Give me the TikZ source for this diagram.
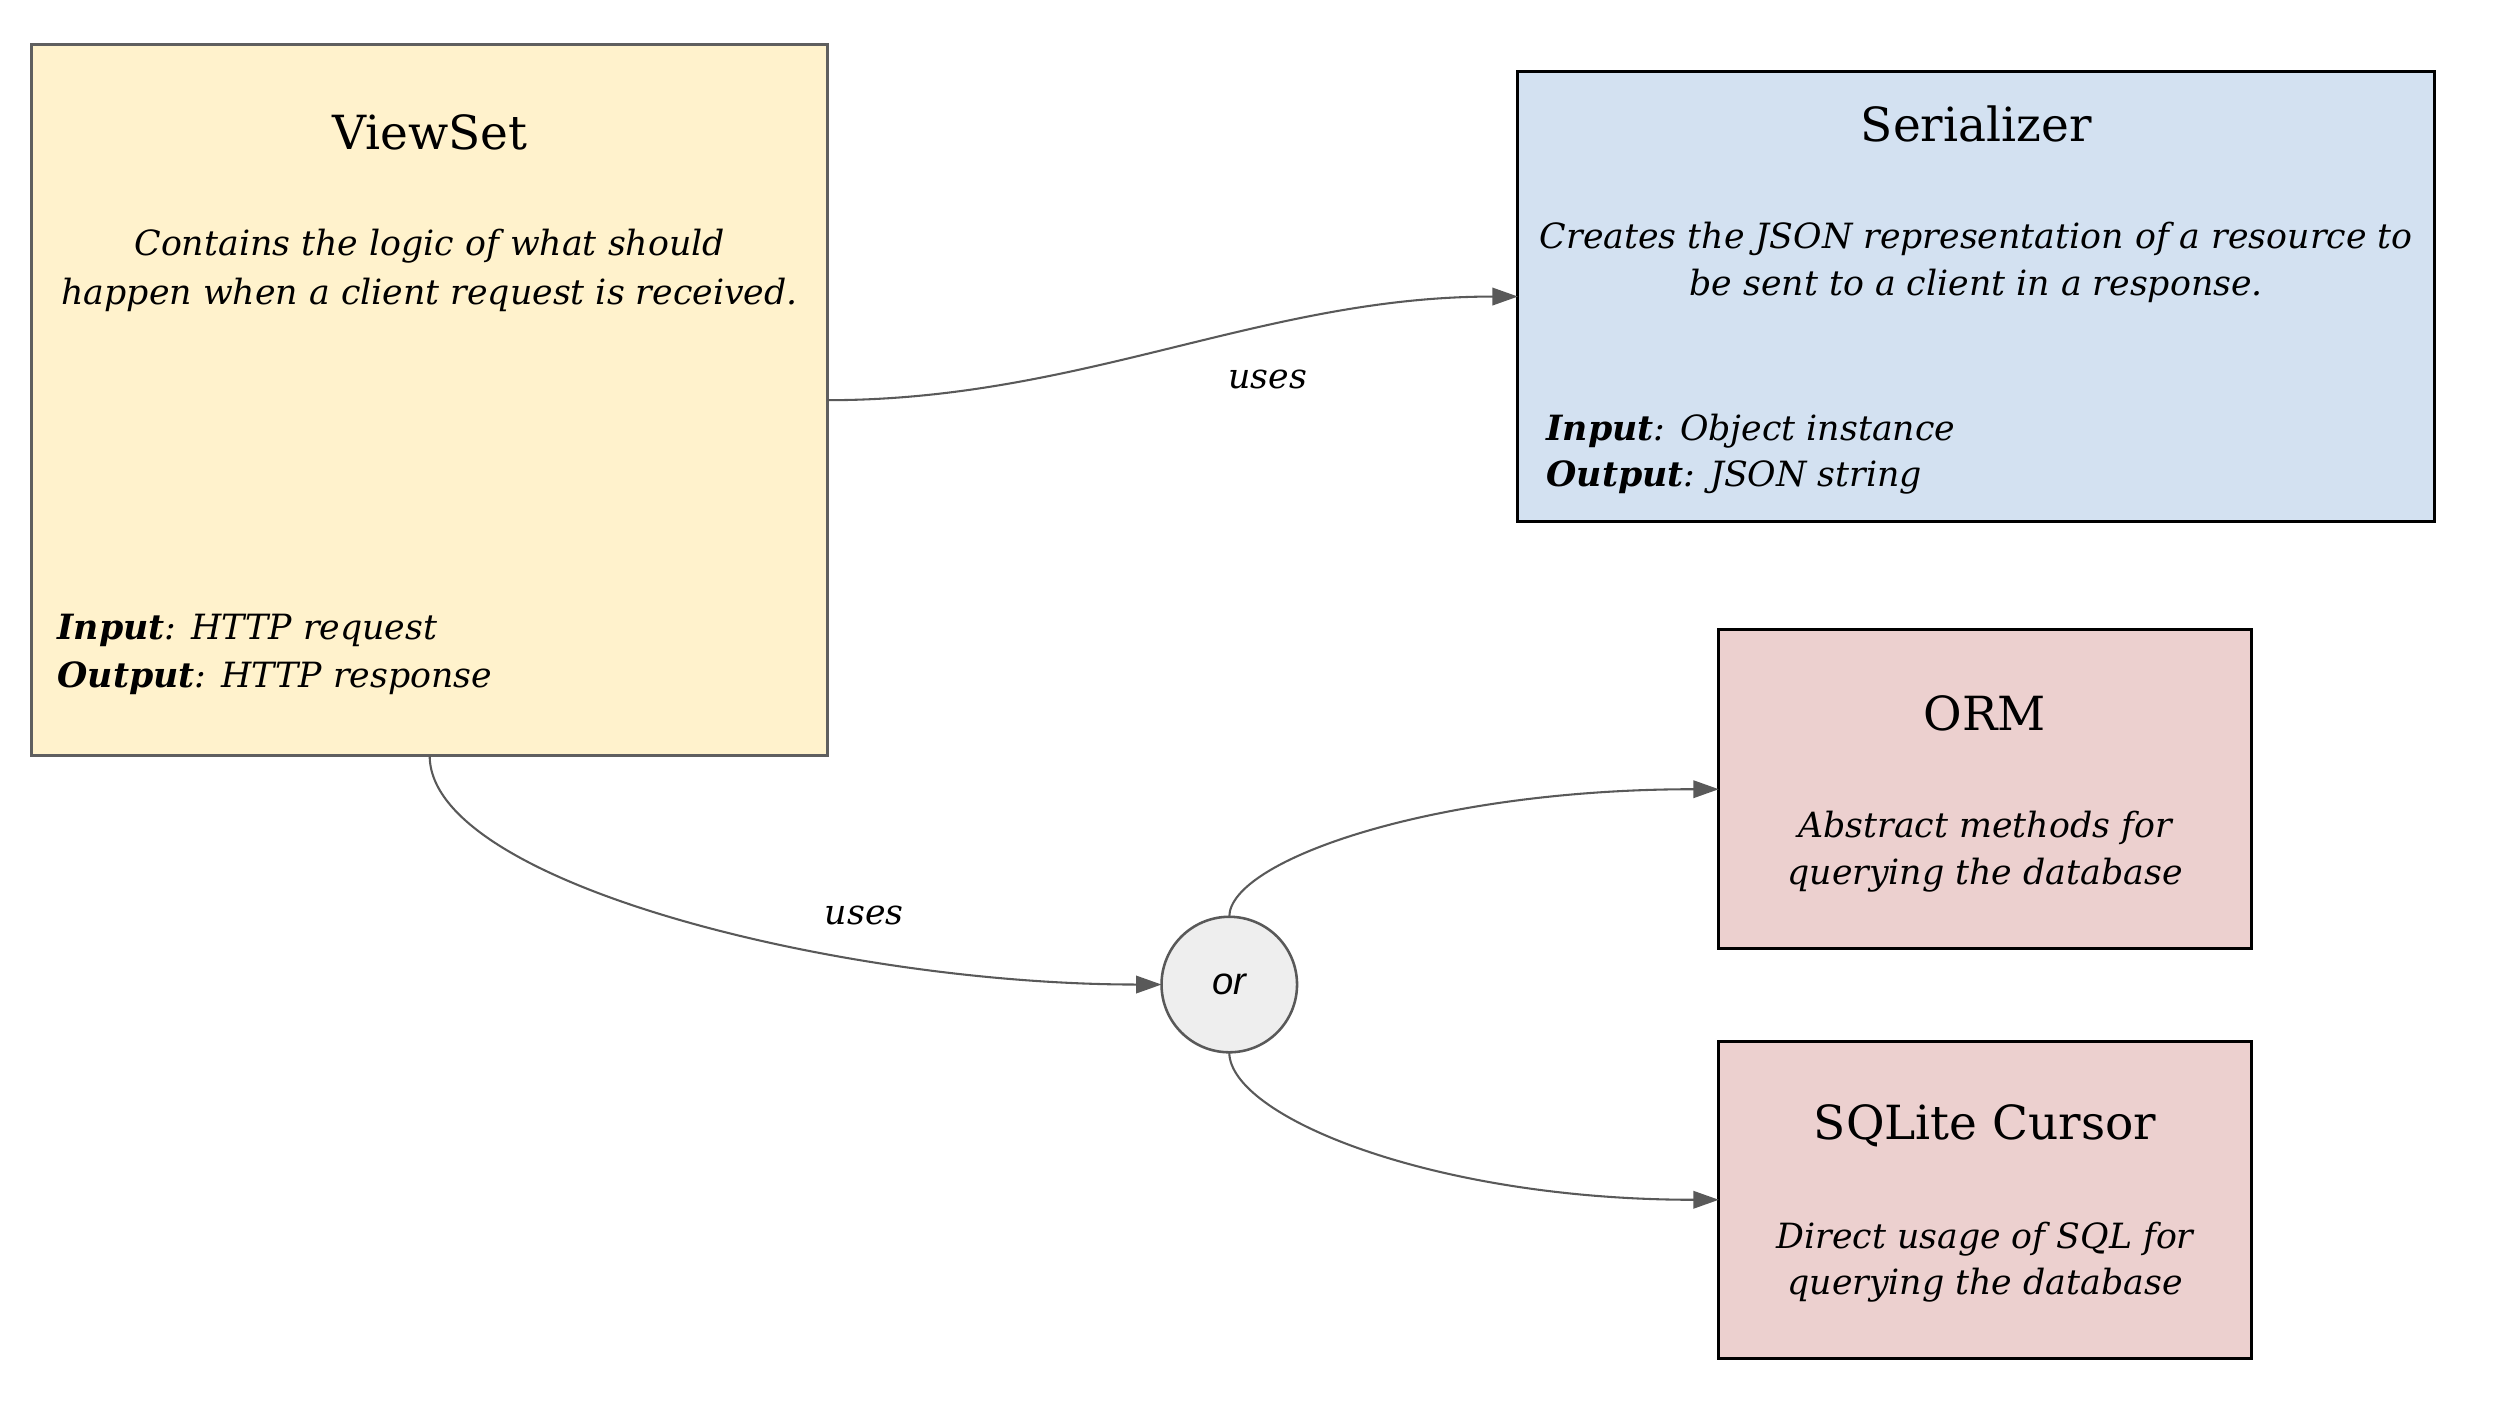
\documentclass[tikz,border=0pt]{standalone}
\usepackage{fontspec}
\setmainfont{DejaVu Serif}
\newfontfamily\orfont{Liberation Sans}
\usetikzlibrary{arrows.meta}
\definecolor{vsfill}{HTML}{FFF2CC}
\definecolor{vsline}{HTML}{5F5F5F}
\definecolor{serfill}{HTML}{D3E1F1}
\definecolor{redfill}{HTML}{ECD0CF}
\definecolor{orfill}{HTML}{EEEEEE}
\definecolor{connc}{HTML}{595959}
\tikzset{
  boxbase/.style={rectangle, line width=1.8pt, outer sep=0pt, inner sep=0pt},
  vbox/.style={boxbase, draw=vsline, fill=vsfill},
  sbox/.style={boxbase, draw=black, fill=serfill},
  rbox/.style={boxbase, draw=black, fill=redfill},
  orcirc/.style={circle, draw=connc, fill=orfill, line width=1.6pt, minimum size=85pt, inner sep=0pt, outer sep=0pt, font=\orfont\itshape\fontsize{24pt}{28pt}\selectfont},
  ttl/.style={anchor=base, inner sep=0pt, font=\fontsize{29.5pt}{34pt}\selectfont},
  dsc/.style={anchor=base, inner sep=0pt, font=\itshape\fontsize{21.8pt}{30pt}\selectfont},
  dscl/.style={dsc, anchor=base west},
  lbl/.style={anchor=base, inner sep=0pt, font=\itshape\fontsize{21.8pt}{30pt}\selectfont},
  conn/.style={draw=connc, line width=1.3pt, -{Triangle[length=16pt,width=11pt]}}
}
\begin{document}
\begin{tikzpicture}[x=1pt,y=-1pt]
\useasboundingbox (0,0) rectangle (1568,882);
% boxes
\node[vbox, minimum width=499pt, minimum height=446pt] (vs) at (269.5,251) {};
\node[sbox, minimum width=575pt, minimum height=282pt] (ser) at (1239.5,186) {};
\node[rbox, minimum width=334pt, minimum height=200pt] (orm) at (1245,495) {};
\node[rbox, minimum width=334pt, minimum height=199pt] (sql) at (1245,752.5) {};
\node[orcirc] (or) at (771,617.5) {or};
% ViewSet texts
\node[ttl] (vsT) at (269.5,93.7) {ViewSet};
\node[dsc] (vsD1) at (269.5,160) {Contains the logic of what should};
\node[dsc] (vsD2) at (269.5,191) {happen when a client request is received.};
\node[dscl] (vsI) at (36,401) {\textbf{Input}: HTTP request};
\node[dscl] (vsO) at (36,431.5) {\textbf{Output}: HTTP response};
% Serializer texts
\node[ttl] (serT) at (1239.5,89) {Serializer};
\node[dsc] (serD1) at (1239.5,155.8) {Creates the JSON representation of a resource to};
\node[dsc] (serD2) at (1239.5,185.5) {be sent to a client in a response.};
\node[dscl] (serI) at (969.8,276) {\textbf{Input}: Object instance};
\node[dscl] (serO) at (969.8,305.3) {\textbf{Output}: JSON string};
% ORM texts
\node[ttl] (ormT) at (1245,458) {ORM};
\node[dsc] (ormD1) at (1245,525.2) {Abstract methods for};
\node[dsc] (ormD2) at (1245,554.5) {querying the database};
% SQLite texts
\node[ttl] (sqlT) at (1245,714.7) {SQLite Cursor};
\node[dsc] (sqlD1) at (1245,783) {Direct usage of SQL for};
\node[dsc] (sqlD2) at (1245,811.7) {querying the database};
% connectors
\draw[conn] (vs.east) .. controls +(160,0) and +(-160,0) .. (ser.west);
\draw[conn] (vs.south) .. controls +(0,80) and +(-200,0) .. (or.west);
\draw[conn] (or.north) .. controls +(0,-35) and +(-180,0) .. (orm.west);
\draw[conn] (or.south) .. controls +(0,40) and +(-180,0) .. (sql.west);
% labels
\node[lbl] (u1) at (795,243.6) {uses};
\node[lbl] (u2) at (542,580) {uses};
\end{tikzpicture}
\end{document}
